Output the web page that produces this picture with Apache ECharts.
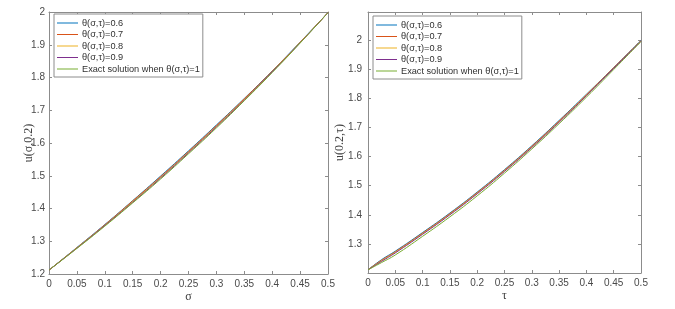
<!DOCTYPE html>
<html><head><meta charset="utf-8">
<script src="https://cdn.jsdelivr.net/npm/echarts@6/dist/echarts.min.js"></script>
<style>html,body{margin:0;padding:0;background:#fff;}#c{width:675px;height:309px;}</style>
</head><body><div id="c"></div>
<script>
const seriesNames = ['θ(σ,τ)=0.6','θ(σ,τ)=0.7','θ(σ,τ)=0.8','θ(σ,τ)=0.9','Exact solution when θ(σ,τ)=1'];
const colors = ['#0072BD','#D95319','#EDB120','#7E2F8E','#77AC30'];
const xTicks = [0,0.05,0.1,0.15,0.2,0.25,0.3,0.35,0.4,0.45,0.5];
// Left panel: u(σ,0.2)
const sigma = [0,0.05,0.1,0.15,0.2,0.25,0.3,0.35,0.4,0.45,0.5];
const left06 = [1.212,1.281,1.351,1.424,1.499,1.576,1.655,1.736,1.820,1.908,1.998];
const left07 = [1.212,1.280,1.350,1.423,1.497,1.574,1.653,1.735,1.819,1.907,1.998];
const left08 = [1.212,1.280,1.349,1.421,1.495,1.572,1.651,1.733,1.818,1.907,1.998];
const left09 = [1.212,1.279,1.348,1.419,1.493,1.570,1.649,1.731,1.817,1.906,1.998];
const leftEx = [1.212,1.278,1.346,1.417,1.490,1.567,1.646,1.729,1.815,1.905,1.998];
// Right panel: u(0.2,τ)
const tau = [0,0.025,0.05,0.1,0.15,0.2,0.25,0.3,0.35,0.4,0.45,0.5];
const right06 = [1.211,1.246,1.275,1.339,1.406,1.478,1.555,1.637,1.724,1.814,1.906,1.999];
const right07 = [1.211,1.244,1.273,1.337,1.404,1.476,1.553,1.635,1.722,1.812,1.905,1.998];
const right08 = [1.211,1.242,1.271,1.335,1.402,1.474,1.551,1.633,1.720,1.811,1.904,1.997];
const right09 = [1.211,1.240,1.269,1.333,1.400,1.472,1.549,1.631,1.718,1.809,1.903,1.996];
const rightEx = [1.211,1.236,1.262,1.326,1.393,1.465,1.543,1.626,1.713,1.804,1.899,1.995];
const leftYTicks = [1.2,1.3,1.4,1.5,1.6,1.7,1.8,1.9,2];
const rightYTicks = [1.3,1.4,1.5,1.6,1.7,1.8,1.9,2];

const leftData = [left06,left07,left08,left09,leftEx];
const rightData = [right06,right07,right08,right09,rightEx];

const axisCol = '#8c8c8c';
const labCol = '#4a4a4a';
function pairs(xs, ys){ return xs.map((x,i)=>[x, ys[i]]); }
function fmt(ticks){ return function(v){ for (const t of ticks){ if (Math.abs(v-t)<1e-6) return String(t); } return ''; }; }
function xAx(grid, pos, name, showLab){
  return {type:'value', gridIndex:grid, position:pos, min:0, max:0.5, interval:0.05,
    name: name, nameLocation:'middle', nameGap:17, nameMoveOverlap:false,
    nameTextStyle:{fontFamily:'Liberation Serif', fontSize:12, color:'#404040'},
    axisLine:{show:true, onZero:false, lineStyle:{color:axisCol, width:1}},
    axisTick:{show:true, inside:true, length:3, lineStyle:{color:axisCol}},
    axisLabel:{show:showLab, margin:5, fontFamily:'Liberation Sans', fontSize:10, color:labCol, formatter:fmt(xTicks)},
    splitLine:{show:false}};
}
function yAx(grid, pos, min, max, ticks, name, gap, showLab, margin){
  return {type:'value', gridIndex:grid, position:pos, min:min, max:max, interval:0.1,
    name: name, nameLocation:'middle', nameGap:gap, nameMoveOverlap:false,
    nameTextStyle:{fontFamily:'Liberation Serif', fontSize:12, color:'#404040'},
    axisLine:{show:true, onZero:false, lineStyle:{color:axisCol, width:1}},
    axisTick:{show:true, inside:true, length:3, lineStyle:{color:axisCol}},
    axisLabel:{show:showLab, margin:margin, fontFamily:'Liberation Sans', fontSize:10, color:labCol, formatter:fmt(ticks)},
    splitLine:{show:false}};
}
const series = [];
seriesNames.forEach((n,i)=>{
  series.push({name:n, type:'line', xAxisIndex:0, yAxisIndex:0, data:pairs(sigma, leftData[i]), smooth:true,
    showSymbol:false, symbol:'none', lineStyle:{width:1, color:colors[i]}, itemStyle:{color:colors[i]}, z:2+i, animation:false});
});
seriesNames.forEach((n,i)=>{
  series.push({name:n, type:'line', xAxisIndex:2, yAxisIndex:2, data:pairs(tau, rightData[i]), smooth:true,
    showSymbol:false, symbol:'none', lineStyle:{width:1, color:colors[i]}, itemStyle:{color:colors[i]}, z:2+i, animation:false});
});
function legend(left, top){
  return {show:true, orient:'vertical', left:left, top:top, data:seriesNames, icon:'rect', itemWidth:21, itemHeight:1,
    itemGap:1.5, padding:[4,3,3,3], borderColor:axisCol, borderWidth:1, backgroundColor:'#fff',
    textStyle:{fontFamily:'Liberation Sans', fontSize:9.2, color:'#303030', lineHeight:10, padding:[0,0,0,-1]},
    selectedMode:false};
}
const chart = echarts.init(document.getElementById('c'), null, {renderer:'canvas'});
chart.setOption({
  animation:false,
  backgroundColor:'#fff',
  color: colors,
  grid:[{left:49, top:12, width:279, height:262}, {left:368, top:12, width:273, height:261}],
  xAxis:[xAx(0,'bottom','σ',true), xAx(0,'top','',false), xAx(1,'bottom','τ',true), xAx(1,'top','',false)],
  yAxis:[yAx(0,'left',1.2,2,leftYTicks,'u(σ,0.2)',14,true,4), yAx(0,'right',1.2,2,leftYTicks,'',15,false,4),
         yAx(1,'left',1.2,2.0966,rightYTicks,'u(0.2,τ)',22,true,6), yAx(1,'right',1.2,2.0966,rightYTicks,'',15,false,4)],
  legend:[legend(54,14), legend(373,16)],
  series: series
});
</script></body></html>
